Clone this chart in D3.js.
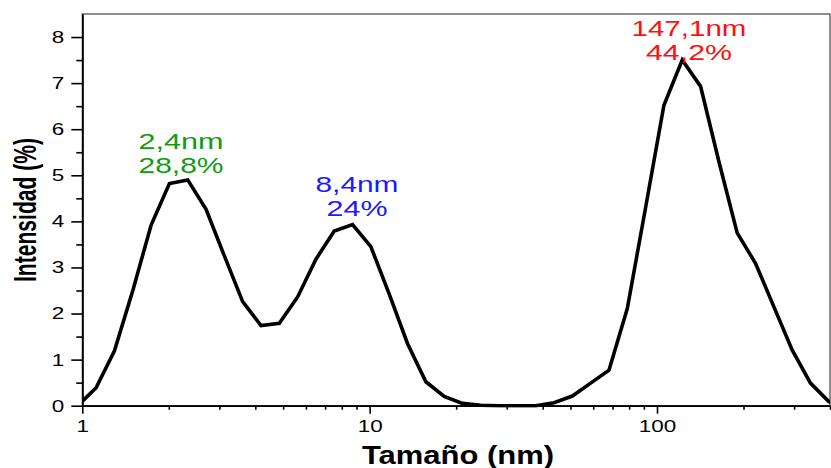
<!DOCTYPE html>
<html>
<head>
<meta charset="utf-8">
<script src="https://cdn.jsdelivr.net/npm/d3@7"></script>
<style>
html,body{margin:0;padding:0;background:#fff;}
svg{display:block;font-family:"Liberation Sans",Arial,sans-serif;}
</style>
</head>
<body>
<svg id="chart" width="831" height="468"></svg>
<script>
// Malvern size bins (nm)
const sizes = [0.9649, 1.117, 1.294, 1.499, 1.736, 2.010, 2.328, 2.696, 3.122, 3.615, 4.187, 4.849, 5.615, 6.503, 7.531, 8.721, 10.10, 11.70, 13.54, 15.69, 18.17, 21.04, 24.36, 28.21, 32.67, 37.84, 43.82, 50.75, 58.77, 68.06, 78.82, 91.28, 105.7, 122.4, 141.8, 164.2, 190.1, 220.2, 255.0, 295.3, 342.0, 396.1, 458.7];
// Intensity (%)
const intensity = [0, 0.39, 1.19, 2.5, 3.92, 4.82, 4.90, 4.26, 3.25, 2.26, 1.74, 1.79, 2.36, 3.18, 3.79, 3.93, 3.45, 2.42, 1.35, 0.52, 0.2, 0.05, 0.01, 0, 0, 0, 0.065, 0.21, 0.49, 0.77, 2.11, 4.3, 6.52, 7.50, 6.93, 5.3, 3.75, 3.09, 2.15, 1.21, 0.49, 0.09, 0];

const xMajorTicks = [1, 10, 100];
const xMinorTicks = [2,3,4,5,6,7,8,9,20,30,40,50,60,70,80,90,200,300,400];
const yMajorTicks = [0,1,2,3,4,5,6,7,8];
const yMinorTicks = [0.5,1.5,2.5,3.5,4.5,5.5,6.5,7.5];

const peakSize = [2.328, 8.721, 122.4];
const peakValue = [4.90, 3.93, 7.50];
const peakLabel1 = ["2,4nm", "8,4nm", "147,1nm"];
const peakLabel2 = ["28,8%", "24%", "44,2%"];
const peakColor = ["#139a13", "#1a1aff", "#ff1010"];

const xTitle = "Tamaño (nm)";
const yTitle = "Intensidad (%)";

const L = 82.3, R = 830, T = 14, B = 405.7;
const svg = d3.select("#chart");

const x = d3.scaleLog().domain([1, 400]).range([L, R]);
const y = d3.scaleLinear().domain([0, 8.5]).range([B, T]);

// frame
svg.append("rect").attr("x", L).attr("y", T).attr("width", R - L).attr("height", B - T)
  .attr("fill", "none").attr("stroke", "#444").attr("stroke-width", 1.2);

svg.append("clipPath").attr("id", "clip").append("rect")
  .attr("x", L).attr("y", T - 2).attr("width", R - L).attr("height", B - T + 4);

// axes
const fmt = d => String(d);
const xAxis = svg.append("g").attr("transform", `translate(0,${B})`)
  .call(d3.axisBottom(x).tickValues(xMajorTicks).tickFormat(fmt).tickSize(8).tickPadding(6).tickSizeOuter(0));
const xMinor = svg.append("g").attr("transform", `translate(0,${B})`)
  .call(d3.axisBottom(x).tickValues(xMinorTicks).tickFormat("").tickSize(4).tickSizeOuter(0));
const yAxis = svg.append("g").attr("transform", `translate(${L},0)`)
  .call(d3.axisLeft(y).tickValues(yMajorTicks).tickFormat(fmt).tickSize(11).tickPadding(7).tickSizeOuter(0));
const yMinor = svg.append("g").attr("transform", `translate(${L},0)`)
  .call(d3.axisLeft(y).tickValues(yMinorTicks).tickFormat("").tickSize(6).tickSizeOuter(0));

[xAxis, xMinor, yAxis, yMinor].forEach(g => {
  g.select(".domain").attr("stroke", "#000").attr("stroke-width", 1.6);
  g.selectAll(".tick line").attr("stroke", "#000").attr("stroke-width", 1.6);
});
[xAxis, yAxis].forEach(g => {
  g.selectAll(".tick text").attr("fill", "#000").attr("font-size", 17)
    .attr("font-family", "'Liberation Sans', Arial, sans-serif")
    .attr("textLength", d => String(d).length * 12.5).attr("lengthAdjust", "spacingAndGlyphs");
});
xAxis.selectAll(".tick text").attr("dy", "0.71em").attr("y", 14.5);

// line
const line = d3.line().x((d, i) => x(sizes[i])).y(d => y(d));
svg.append("path").datum(intensity).attr("clip-path", "url(#clip)")
  .attr("d", line).attr("fill", "none").attr("stroke", "#000")
  .attr("stroke-width", 3.6).attr("stroke-linejoin", "miter");

// annotations
const annX = [181, 357, 689];
const annY1 = [149, 192, 36];
const len1 = [85, 83, 115];
const len2 = [85, 61, 86];
peakSize.forEach((s, i) => {
  svg.append("text").attr("x", annX[i]).attr("y", annY1[i]).attr("text-anchor", "middle")
    .attr("font-size", 22).attr("fill", peakColor[i])
    .attr("textLength", len1[i]).attr("lengthAdjust", "spacingAndGlyphs").text(peakLabel1[i]);
  svg.append("text").attr("x", annX[i]).attr("y", annY1[i] + 23.5).attr("text-anchor", "middle")
    .attr("font-size", 22).attr("fill", peakColor[i])
    .attr("textLength", len2[i]).attr("lengthAdjust", "spacingAndGlyphs").text(peakLabel2[i]);
});

// titles
svg.append("text").attr("x", 458).attr("y", 463.5).attr("text-anchor", "middle")
  .attr("font-size", 25.5).attr("font-weight", "bold").attr("fill", "#000")
  .attr("textLength", 192).attr("lengthAdjust", "spacingAndGlyphs").text(xTitle);
svg.append("text").attr("transform", "translate(36,210) rotate(-90)").attr("text-anchor", "middle")
  .attr("font-size", 32).attr("font-weight", "bold").attr("fill", "#000")
  .attr("textLength", 144).attr("lengthAdjust", "spacingAndGlyphs").text(yTitle);
</script>
</body>
</html>
